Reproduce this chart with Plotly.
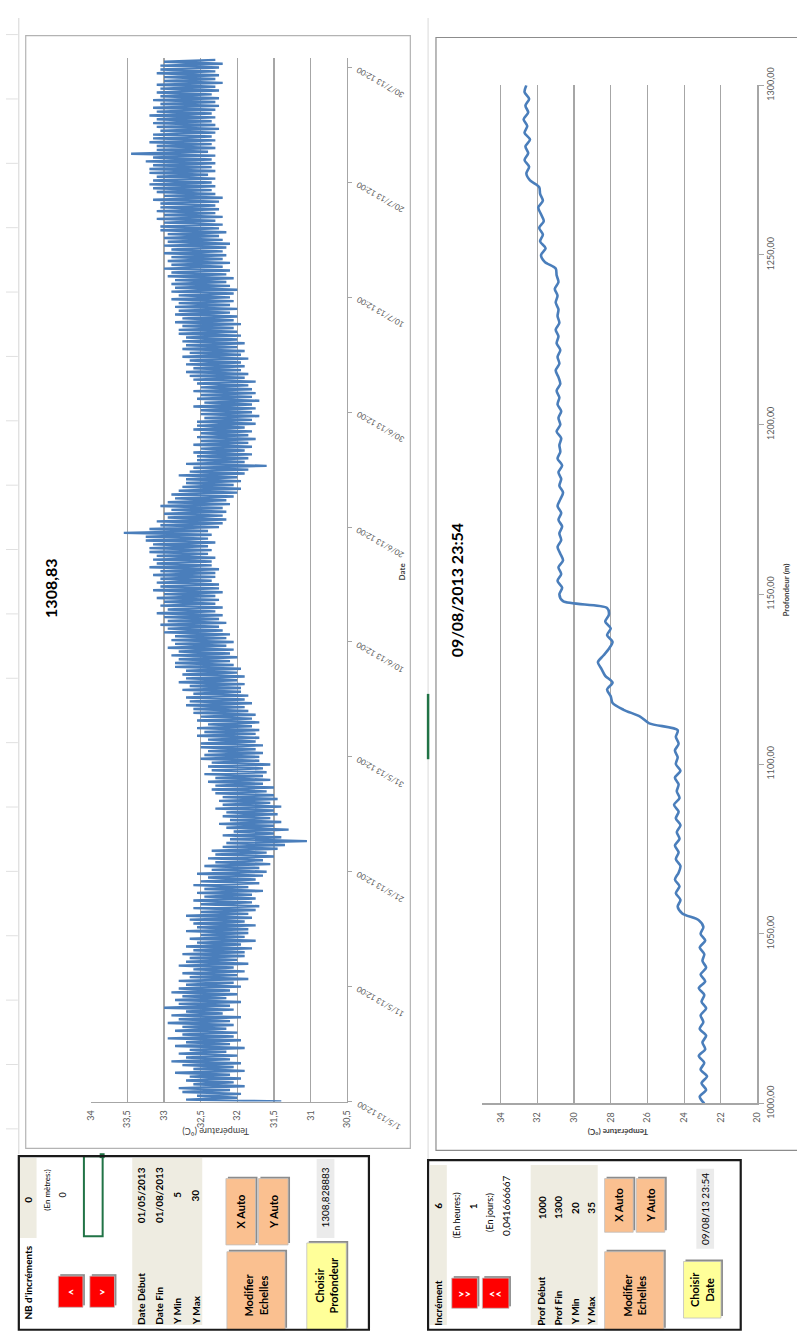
import plotly.graph_objects as go
import pandas as pd

W, H = 797, 1335
FONT = "Lato"

def X(px):
    return px / W

def Y(py):
    return 1 - py / H

# ---------------- Chart 1 data (temperature vs date, 4-hourly readings) ----------------
chart1_title = "1308,83"
chart1_start = "2013-05-01 12:00"
chart1_end = "2013-07-31 08:00"
chart1_temp = [
    31.4, 32.7, 32.0, 32.55, 31.95, 32.75,   32.1, 32.8, 31.9, 32.6, 32.05, 32.7,
    31.95, 32.65, 32.1, 32.85, 31.9, 32.6,   32.05, 32.75, 31.95, 32.9, 32.1, 32.7,
    32.0, 32.8, 32.15, 32.65, 31.9, 32.85,   32.1, 32.7, 31.95, 32.95, 32.05, 32.75,
    32.0, 32.85, 32.15, 32.75, 32.05, 32.95,  32.1, 32.8, 31.95, 32.9, 32.2, 32.7,
    32.05, 33.0, 32.1, 32.8, 31.95, 32.85,   32.15, 32.75, 32.0, 32.9, 32.1, 32.8,
    31.95, 32.7, 32.05, 32.8, 31.85, 32.65,  32.0, 32.75, 31.9, 32.6, 32.05, 32.8,
    31.85, 32.7, 32.0, 32.65, 31.9, 32.75,   31.9, 32.6, 31.8, 32.7, 31.95, 32.55,
    31.75, 32.65, 31.9, 32.5, 31.85, 32.7,   31.85, 32.55, 31.75, 32.6, 31.9, 32.65,
    31.8, 32.7, 31.85, 32.5, 31.75, 32.6,    31.7, 32.5, 31.8, 32.6, 31.75, 32.45,
    31.8, 32.55, 31.65, 32.45, 31.85, 32.6,  31.7, 32.5, 31.75, 32.4, 31.65, 32.55,
    31.6, 32.35, 31.7, 32.45, 31.55, 32.3,   31.65, 32.4, 31.5, 32.3, 31.6, 32.35,
    31.45, 32.2, 31.35, 32.15, 31.05, 32.1,  31.4, 32.2, 31.5, 32.05, 31.3, 32.15,
    31.5, 32.25, 31.4, 32.1, 31.55, 32.2,    31.45, 32.15, 31.5, 32.3, 31.4, 32.2,
    31.55, 32.25, 31.45, 32.2, 31.5, 32.3,   31.6, 32.35, 31.5, 32.3, 31.65, 32.4,
    31.55, 32.3, 31.65, 32.45, 31.6, 32.35,  31.65, 32.4, 31.55, 32.35, 31.7, 32.5,
    31.7, 32.45, 31.65, 32.4, 31.75, 32.5,   31.65, 32.5, 31.75, 32.4, 31.7, 32.55,
    31.75, 32.45, 31.7, 32.55, 31.8, 32.4,   31.7, 32.55, 31.8, 32.5, 31.75, 32.6,
    31.85, 32.6, 31.9, 32.7, 31.8, 32.65,    31.9, 32.7, 31.85, 32.6, 31.95, 32.75,
    31.95, 32.65, 31.9, 32.8, 32.0, 32.7,    31.9, 32.75, 32.0, 32.7, 31.95, 32.85,
    32.05, 32.85, 32.1, 32.8, 32.0, 32.9,    32.1, 32.8, 32.05, 32.95, 32.15, 32.85,
    32.05, 32.9, 32.15, 32.85, 32.1, 33.0,   32.2, 32.95, 32.25, 33.05, 32.15, 32.95,
    32.25, 33.0, 32.2, 33.1, 32.3, 32.95,    32.2, 33.05, 32.3, 33.0, 32.25, 33.1,
    32.3, 33.0, 32.2, 33.15, 32.25, 33.05,   32.25, 33.1, 32.35, 33.05, 32.3, 33.15,
    32.3, 33.05, 32.25, 33.2, 32.35, 33.1,   32.35, 33.15, 32.3, 33.1, 32.4, 33.2,
    32.35, 33.2, 32.4, 33.15, 32.3, 33.25,   32.4, 33.25, 32.35, 33.55, 32.4, 33.2,
    32.25, 33.05, 32.2, 33.1, 32.15, 32.95,  32.2, 33.0, 32.15, 32.9, 32.2, 33.05,
    32.1, 32.95, 32.15, 32.85, 32.05, 32.9,  32.0, 32.8, 31.95, 32.75, 32.05, 32.7,
    31.95, 32.7, 32.0, 32.8, 31.9, 32.65,    31.85, 32.6, 31.6, 32.7, 31.9, 32.55,
    31.85, 32.55, 31.8, 32.6, 31.9, 32.5,    31.8, 32.6, 31.85, 32.5, 31.75, 32.55,
    31.85, 32.5, 31.8, 32.6, 31.9, 32.55,    31.75, 32.55, 31.8, 32.45, 31.7, 32.5,
    31.8, 32.5, 31.75, 32.6, 31.8, 32.45,    31.7, 32.55, 31.8, 32.5, 31.75, 32.6,
    31.8, 32.5, 31.85, 32.55, 31.75, 32.6,   31.9, 32.65, 31.85, 32.7, 31.95, 32.6,
    31.9, 32.7, 31.95, 32.65, 31.85, 32.75,  31.95, 32.65, 31.9, 32.75, 32.0, 32.7,
    31.9, 32.75, 32.0, 32.7, 31.95, 32.8,    32.0, 32.8, 32.05, 32.75, 31.95, 32.85,
    32.05, 32.75, 32.0, 32.85, 32.1, 32.8,   32.0, 32.85, 32.1, 32.8, 32.05, 32.9,
    32.1, 32.8, 32.05, 32.9, 32.0, 32.85,    32.1, 32.9, 32.15, 32.85, 32.05, 32.95,
    32.15, 32.9, 32.1, 33.0, 32.2, 32.9,     32.1, 32.95, 32.2, 32.9, 32.15, 33.0,
    32.2, 32.9, 32.15, 33.0, 32.1, 32.95,    32.2, 33.0, 32.25, 32.95, 32.15, 33.05,
    32.25, 33.05, 32.2, 33.0, 32.3, 33.1,    32.2, 33.0, 32.3, 33.1, 32.25, 33.05,
    32.3, 33.05, 32.25, 33.15, 32.2, 33.0,   32.3, 33.1, 32.35, 33.15, 32.3, 33.2,
    32.35, 33.15, 32.3, 33.1, 32.4, 33.2,    32.3, 33.2, 32.35, 33.15, 32.3, 33.25,
    32.35, 33.15, 32.3, 33.45, 32.4, 33.1,   32.3, 33.1, 32.35, 33.2, 32.3, 33.15,
    32.35, 33.15, 32.3, 33.05, 32.25, 33.1,  32.3, 33.15, 32.35, 33.1, 32.3, 33.2,
    32.35, 33.1, 32.3, 33.15, 32.25, 33.05,  32.3, 33.15, 32.25, 33.05, 32.35, 33.1,
    32.25, 33.05, 32.3, 33.1, 32.2, 33.0,    32.3, 33.0, 32.25, 33.1, 32.3, 33.05,
    32.25, 33.05, 32.2, 33.0, 32.3,
]
chart1_tick_dates = [
    "2013-05-01 12:00", "2013-05-11 12:00", "2013-05-21 12:00", "2013-05-31 12:00",
    "2013-06-10 12:00", "2013-06-20 12:00", "2013-06-30 12:00", "2013-07-10 12:00",
    "2013-07-20 12:00", "2013-07-30 12:00",
]
chart1_tick_text = [
    "1/5/13 12:00", "11/5/13 12:00", "21/5/13 12:00", "31/5/13 12:00",
    "10/6/13 12:00", "20/6/13 12:00", "30/6/13 12:00", "10/7/13 12:00",
    "20/7/13 12:00", "30/7/13 12:00",
]

# ---------------- Chart 2 data (temperature vs depth) ----------------
chart2_title = "09/08/2013 23:54"
chart2_depth = list(range(1000, 1301, 2))
chart2_temp = [
    22.9, 23.15, 22.8, 23.05, 22.75, 23.1, 22.9, 23.2, 22.85, 23.0, 22.8, 23.15, 22.95, 23.1,
    22.8, 23.05, 22.9, 23.2, 22.85, 23.1, 22.8, 23.0, 22.9, 23.15, 22.85, 23.1, 22.95, 23.2,
    24.1, 24.35, 24.2, 24.45, 24.25, 24.5, 24.3, 24.2, 24.45, 24.3, 24.5, 24.25, 24.4, 24.2,
    24.45, 24.3, 24.55, 24.25, 24.4, 24.3, 24.5, 24.2, 24.45, 24.35, 24.5, 24.3, 24.45, 24.35,
    25.9, 26.4, 27.3, 27.9,
    28.0, 28.2, 27.9, 28.3, 28.5, 28.7, 28.4, 28.1, 27.9, 28.2, 28.0, 28.3, 28.1, 28.2,
    30.6, 30.8, 30.65, 30.9, 30.7, 30.85, 30.6, 30.75, 30.9, 30.7, 30.8, 30.65, 30.85, 30.7,
    30.9, 30.75, 30.6, 30.8, 30.7, 30.85, 30.65, 30.9, 30.75, 30.8, 30.7, 30.95, 30.75, 30.85,
    30.7, 30.9, 30.8, 30.95, 30.75, 30.85, 31.0, 30.8, 30.9, 30.75, 30.95, 30.85, 31.0, 30.8,
    30.9, 30.85, 31.0, 30.9, 31.05, 30.85, 30.95, 31.0,
    31.6, 31.8, 31.55, 31.85, 31.7, 31.9, 31.65, 31.8, 31.95, 31.7, 31.85, 31.9,
    32.4, 32.6, 32.45, 32.7, 32.5, 32.65, 32.4, 32.7, 32.55, 32.75, 32.5, 32.65, 32.45, 32.7, 32.6,
]
chart2_depth_ticks = [1000, 1050, 1100, 1150, 1200, 1250, 1300]

BLUE = "#4a7ebb"
GRID = "#a6a6a6"
AXTXT = "#595959"

times1 = pd.date_range(chart1_start, periods=len(chart1_temp), freq="4h")

fig = go.Figure()
fig.add_trace(go.Scatter(x=chart1_temp, y=times1, mode="lines",
                         line=dict(color=BLUE, width=2.4), xaxis="x", yaxis="y",
                         showlegend=False, hoverinfo="skip"))
fig.add_trace(go.Scatter(x=chart2_temp, y=chart2_depth, mode="lines",
                         line=dict(color=BLUE, width=2.6, shape="spline", smoothing=0.8),
                         xaxis="x2", yaxis="y2", showlegend=False, hoverinfo="skip"))

axfont = dict(family=FONT, size=9, color=AXTXT)
fig.update_layout(
    width=W, height=H, margin=dict(l=0, r=0, t=0, b=0),
    paper_bgcolor="white", plot_bgcolor="white",
    separators=", ", showlegend=False, hovermode=False,
    xaxis=dict(domain=[X(86), X(346)], range=[34, 30.5], tick0=30.5, dtick=0.5,
               tickangle=-90, showgrid=True, gridcolor=GRID, gridwidth=1.2,
               showline=True, linecolor=GRID, linewidth=1.2, zeroline=False, ticks="",
               tickfont=axfont, anchor="y", ticklabelstandoff=4, fixedrange=True),
    yaxis=dict(domain=[Y(1111), Y(41)], type="date", range=[chart1_start, chart1_end],
               side="right", showline=True, linecolor=GRID, linewidth=1.2,
               ticks="outside", ticklen=4, tickcolor=GRID, tickvals=chart1_tick_dates,
               showticklabels=False, showgrid=False, zeroline=False, anchor="x",
               fixedrange=True),
    xaxis2=dict(domain=[X(483), X(762)], range=[35, 20], tick0=20, dtick=2,
                tickangle=-90, showgrid=True, gridcolor=GRID, gridwidth=1.2,
                showline=True, linecolor=GRID, linewidth=1.2, zeroline=False, ticks="",
                tickfont=axfont, anchor="y2", ticklabelstandoff=4, fixedrange=True),
    yaxis2=dict(domain=[Y(1113), Y(69)], range=[1000, 1300], side="right",
                tickvals=chart2_depth_ticks, tickformat=".2f", tickangle=-90,
                showline=True, linecolor=GRID, linewidth=1.2, ticks="outside", ticklen=5,
                tickcolor=GRID, showgrid=False, zeroline=False, tickfont=axfont,
                anchor="x2", fixedrange=True),
)

shapes = []
ann = []

def rect(x0, y0, x1, y1, fill=None, line="#000000", lw=1, layer="above"):
    shapes.append(dict(type="rect", xref="paper", yref="paper",
                       x0=X(x0), x1=X(x1), y0=Y(y1), y1=Y(y0),
                       fillcolor=fill if fill else "rgba(0,0,0,0)",
                       line=dict(color=line, width=lw) if lw else dict(width=0),
                       layer=layer))

def line(x0, y0, x1, y1, color="#000000", lw=1):
    shapes.append(dict(type="line", xref="paper", yref="paper",
                       x0=X(x0), x1=X(x1), y0=Y(y0), y1=Y(y1),
                       line=dict(color=color, width=lw)))

def txt(px, py, s, size=10, angle=-90, bold=False, color="#000000", xa="center", ya="middle"):
    ann.append(dict(x=X(px), y=Y(py), xref="paper", yref="paper",
                    text=f"<b>{s}</b>" if bold else s, showarrow=False,
                    textangle=angle, xanchor=xa, yanchor=ya,
                    font=dict(family=FONT, size=size, color=color)))

def button(x0, y0, x1, y1, fill):
    rect(x0 + 2, y0 - 2, x1 + 2, y1 - 2, fill="#8c8c8c", lw=0)
    rect(x0, y0, x1, y1, fill=fill, line="#bfbfbf", lw=0.8)

# spreadsheet background lines
line(13, 0, 13, 1165, "#d4d4d4", 1)
for ry in range(17, 1160, 66):
    line(0, ry, 12, ry, "#e0e0e0", 1)
line(428, 0, 428, 1170, "#d9d9d9", 1)
line(428, 693, 428, 760, "#217346", 2.5)

# chart frames
rect(20, 18, 410, 1159, line="#b3b3b3", lw=1.2)
rect(436, 20, 803, 1161, line="#8c8c8c", lw=1.2)

# chart titles / axis titles
txt(45, 585, chart1_title, 16, bold=True)
txt(213, 1141, "Température (°C)", 9, angle=180, color="#404040")
txt(402, 567, "Date", 8, bold=True, color="#404040")
txt(457, 587, chart2_title, 16, bold=True)
txt(620, 1143, "Température (°C)", 8, angle=180, bold=True, color="#404040")
txt(791, 587, "Profondeur (m)", 8, bold=True, color="#404040")

# chart 1 date tick labels (rotated like the rest of the screenshot)
for d, s in zip(chart1_tick_dates, chart1_tick_text):
    ann.append(dict(x=X(351), y=d, xref="paper", yref="y", text=s, showarrow=False,
                    textangle=-150, xanchor="left", yanchor="top", yshift=5,
                    font=dict(family=FONT, size=8, color=AXTXT)))

# ---------------- Panel 1 ----------------
BEIGE = "#eeece1"
ORANGE = "#fac090"
YELLOW = "#ffff99"
RED = "#ff0000"
rect(13, 1169, 31, 1251, fill=BEIGE, lw=0)
txt(22, 1257, "NB d'incréments", 10, bold=True, ya="top")
txt(22, 1212, "0", 10, bold=True)
txt(42, 1202, "(En mètres:)", 8)
txt(57, 1207, "0", 9)
rect(79, 1167, 98, 1249, line="#217346", lw=2)
rect(95, 1164, 100, 1169, fill="#217346", lw=0)
button(53, 1290, 78, 1322, RED)
button(85, 1290, 110, 1322, RED)
txt(65.5, 1306, "<", 11, angle=0, bold=True, color="white")
txt(97.5, 1306, ">", 11, angle=0, bold=True, color="white")
rect(128, 1169, 199, 1340, fill=BEIGE, lw=0)
for xx, lab, val in [(137, "Date Début", "01/05/2013"), (155, "Date Fin", "01/08/2013"),
                     (174, "Y Min", "5"), (192, "Y Max", "30")]:
    txt(xx, 1342, lab, 10, bold=True, ya="bottom")
    txt(xx, 1207, val, 10, bold=True)
button(223, 1190, 253, 1258, ORANGE)
button(256, 1190, 286, 1258, ORANGE)
txt(238, 1224, "X Auto", 11, bold=True)
txt(271, 1224, "Y Auto", 11, bold=True)
button(224, 1265, 283, 1345, ORANGE)
txt(253.5, 1310, "Modifier<br>Echelles", 11, bold=True)
rect(315, 1170, 333, 1251, fill="#ebebeb", lw=0)
txt(324, 1210, "1308,828883", 10)
button(305, 1256, 345, 1345, YELLOW)
txt(325, 1300, "Choisir<br>Profondeur", 11, bold=True)
shapes.append(dict(type="rect", xref="paper", yref="paper", x0=X(13), x1=X(368),
                   y0=Y(1345), y1=Y(1167), line=dict(color="#1a1a1a", width=2.2)))

# ---------------- Panel 2 ----------------
rect(430, 1176, 447, 1340, fill=BEIGE, lw=0)
txt(438, 1343, "Incrément", 10, bold=True, ya="bottom")
txt(438, 1218, "6", 10, bold=True)
txt(457, 1228, "(En heures:)", 9)
txt(473, 1218, "1", 10, bold=True)
txt(490, 1225, "(En jours:)", 9)
txt(507, 1218, "0,041666667", 10)
button(452, 1292, 478, 1323, RED)
button(483, 1292, 510, 1323, RED)
txt(465, 1307.5, ">>", 11, angle=0, bold=True, color="white")
txt(496.5, 1307.5, "<<", 11, angle=0, bold=True, color="white")
rect(532, 1176, 600, 1340, fill=BEIGE, lw=0)
for xx, lab, val in [(543, "Prof Début", "1000"), (560, "Prof Fin", "1300"),
                     (577, "Y Min", "20"), (593, "Y Max", "35")]:
    txt(xx, 1343, lab, 10, bold=True, ya="bottom")
    txt(xx, 1220, val, 10, bold=True)
button(607, 1190, 636, 1245, ORANGE)
button(639, 1190, 668, 1245, ORANGE)
txt(621.5, 1217, "X Auto", 11, bold=True)
txt(653.5, 1217, "Y Auto", 11, bold=True)
button(607, 1265, 667, 1345, ORANGE)
txt(637, 1310, "Modifier<br>Echelles", 11, bold=True)
rect(700, 1180, 718, 1262, fill="#ebebeb", lw=0)
txt(709, 1221, "09/08/13 23:54", 10)
button(687, 1275, 725, 1333, YELLOW)
txt(706, 1304, "Choisir<br>Date", 11, bold=True)
shapes.append(dict(type="rect", xref="paper", yref="paper", x0=X(428), x1=X(745),
                   y0=Y(1345), y1=Y(1171), line=dict(color="#1a1a1a", width=2.2)))

fig.update_layout(shapes=shapes, annotations=ann)
fig.write_html("out.html", config={"displayModeBar": False, "staticPlot": True},
               post_script="document.body.style.margin='0px';document.body.style.overflow='hidden';")
